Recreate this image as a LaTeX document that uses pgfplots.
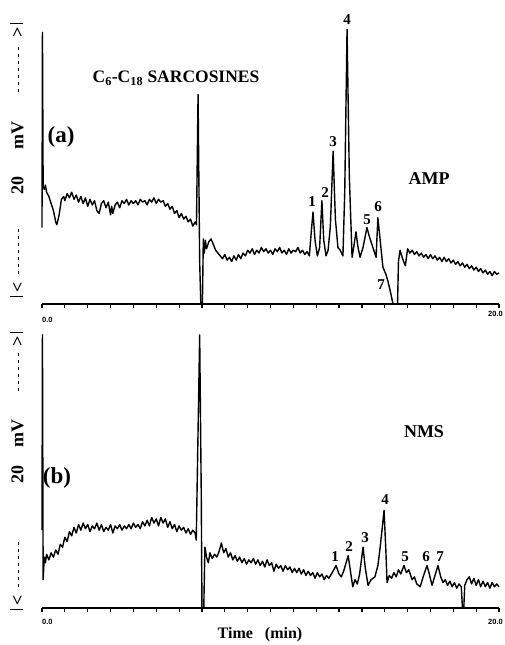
\documentclass[border=0pt]{standalone}
\usepackage{pgfplots}
\pgfplotsset{compat=1.18}
\usepackage{pgfplotstable}
\usepackage{fontspec}
\setmainfont{Liberation Serif}
\newfontfamily\tickfont{Liberation Sans}

% chromatogram (a), AMP: time in min, signal in mV
\pgfplotstableread{
t mV
0.00 5.4
0.02 19.2
0.05 8.3
0.10 8.1
0.15 8.4
0.20 7.9
0.30 7.6
0.40 7.1
0.50 6.6
0.60 5.8
0.65 5.6
0.75 6.3
0.85 7.4
0.95 7.6
1.00 7.3
1.10 7.8
1.20 7.5
1.30 7.9
1.40 7.4
1.50 7.7
1.60 7.2
1.70 7.6
1.80 7.1
1.90 7.5
2.00 6.9
2.10 7.4
2.20 7.0
2.30 7.3
2.40 6.6
2.50 6.4
2.60 7.1
2.70 7.3
2.80 6.8
2.90 7.2
3.00 6.3
3.05 6.9
3.10 6.4
3.20 7.0
3.30 7.2
3.40 6.8
3.50 7.3
3.60 7.1
3.70 7.4
3.80 7.0
3.90 7.3
4.00 7.1
4.10 7.3
4.20 7.0
4.30 7.4
4.40 7.2
4.50 7.3
4.60 7.0
4.70 7.4
4.80 7.2
4.90 7.5
5.00 7.1
5.10 7.4
5.20 7.2
5.30 7.3
5.40 6.9
5.50 7.1
5.60 6.7
5.70 6.9
5.80 6.4
5.90 6.6
6.00 6.1
6.10 6.4
6.20 6.0
6.30 6.2
6.40 5.8
6.50 6.0
6.60 5.5
6.70 5.8
6.76 5.6
6.83 14.8
6.90 3.0
6.95 0
7.02 0
7.06 4.6
7.10 3.6
7.15 4.5
7.20 3.9
7.30 4.4
7.40 4.6
7.50 4.2
7.60 3.8
7.70 3.6
7.80 3.4
7.90 3.2
8.00 3.5
8.10 3.1
8.20 3.3
8.30 3.0
8.40 3.4
8.50 3.1
8.60 3.5
8.70 3.2
8.80 3.6
8.90 3.4
9.00 3.8
9.10 3.6
9.20 3.9
9.30 3.5
9.40 3.8
9.50 3.6
9.60 4.0
9.70 3.7
9.80 3.9
9.90 3.6
10.00 3.8
10.10 3.5
10.20 3.9
10.30 3.7
10.40 4.0
10.50 3.6
10.60 3.8
10.70 3.5
10.80 3.9
10.90 3.6
11.00 3.8
11.10 3.7
11.20 4.0
11.30 3.6
11.40 3.8
11.50 3.5
11.60 3.7
11.70 3.4
11.78 5.0
11.86 6.5
11.95 4.5
12.05 3.4
12.15 4.0
12.25 7.3
12.33 4.5
12.43 3.4
12.52 3.8
12.62 5.5
12.74 10.8
12.84 6.0
12.95 4.0
13.05 3.8
13.17 3.4
13.25 8.0
13.35 19.4
13.45 9.0
13.57 3.3
13.66 4.2
13.74 5.1
13.83 4.0
13.92 3.3
14.05 4.0
14.22 5.4
14.32 4.8
14.40 4.4
14.52 3.8
14.62 3.3
14.70 6.1
14.80 4.5
14.92 2.6
15.05 2.1
15.14 1.6
15.27 0.7
15.36 0
15.56 0
15.60 3.0
15.67 3.8
15.78 3.2
15.90 2.7
16.00 3.9
16.10 3.6
16.20 3.8
16.30 3.5
16.40 3.7
16.50 3.4
16.60 3.6
16.70 3.3
16.80 3.5
16.90 3.2
17.00 3.5
17.10 3.2
17.20 3.4
17.30 3.1
17.40 3.3
17.50 3.0
17.60 3.3
17.70 3.0
17.80 3.2
17.90 2.9
18.00 3.1
18.10 2.8
18.20 3.0
18.30 2.7
18.40 2.9
18.50 2.6
18.60 2.8
18.70 2.5
18.80 2.7
18.90 2.4
19.00 2.6
19.10 2.3
19.20 2.5
19.30 2.2
19.40 2.4
19.50 2.1
19.60 2.3
19.70 2.0
19.80 2.3
19.90 2.1
20.00 2.2
}\traceamp

% chromatogram (b), NMS
\pgfplotstableread{
t mV
0.00 5.5
0.02 19.3
0.05 2.0
0.10 3.6
0.15 3.2
0.20 3.8
0.30 3.4
0.40 3.9
0.50 3.6
0.60 4.1
0.70 3.8
0.80 4.5
0.90 4.3
1.00 5.0
1.10 4.7
1.20 5.4
1.30 5.1
1.40 5.7
1.50 5.3
1.60 5.9
1.70 5.5
1.80 6.0
1.90 5.6
2.00 5.9
2.10 5.4
2.20 5.8
2.30 5.6
2.40 6.0
2.50 5.5
2.60 5.9
2.70 5.4
2.80 5.7
2.90 5.5
3.00 5.9
3.10 5.3
3.20 5.8
3.30 5.6
3.40 5.9
3.50 5.5
3.60 5.8
3.70 5.6
3.80 5.9
3.90 5.6
4.00 6.0
4.10 5.7
4.20 5.9
4.30 5.6
4.40 6.1
4.50 5.8
4.60 6.2
4.70 5.8
4.80 6.4
4.90 6.0
5.00 6.3
5.10 5.8
5.20 6.4
5.30 6.0
5.40 6.3
5.50 5.7
5.60 6.1
5.70 5.6
5.80 5.9
5.90 5.4
6.00 5.8
6.10 5.5
6.20 5.7
6.30 5.3
6.40 5.6
6.50 5.2
6.60 5.5
6.70 5.3
6.75 4.8
6.90 19.3
6.97 8.0
7.00 0
7.08 0
7.13 4.3
7.20 3.6
7.28 3.2
7.35 3.9
7.45 3.5
7.55 3.8
7.65 3.6
7.75 4.0
7.85 4.6
7.95 3.9
8.05 4.2
8.15 3.6
8.25 3.9
8.35 3.4
8.45 3.7
8.55 3.3
8.65 3.6
8.75 3.2
8.85 3.5
8.95 3.1
9.05 3.4
9.15 3.2
9.25 3.5
9.35 3.1
9.45 3.4
9.55 3.0
9.65 3.3
9.75 2.9
9.85 3.4
9.95 3.0
10.05 3.2
10.15 2.6
10.25 3.1
10.35 2.8
10.45 3.0
10.55 2.6
10.65 3.0
10.75 2.7
10.85 2.9
10.95 2.5
11.05 2.8
11.15 2.5
11.25 2.8
11.35 2.4
11.45 2.7
11.55 2.3
11.65 2.6
11.75 2.3
11.85 2.5
11.95 2.1
12.05 2.5
12.15 2.2
12.25 2.4
12.35 2.0
12.45 2.3
12.55 2.1
12.70 2.5
12.87 3.0
13.00 2.4
13.10 2.2
13.20 2.6
13.40 3.7
13.50 2.6
13.60 1.5
13.70 2.0
13.80 1.7
13.90 2.4
14.05 4.3
14.15 2.8
14.27 1.6
14.40 2.0
14.57 2.2
14.70 3.0
14.80 4.3
14.97 6.9
15.05 4.0
15.10 1.8
15.20 2.3
15.30 2.1
15.40 2.5
15.50 2.2
15.60 2.7
15.70 2.4
15.84 3.0
15.95 2.5
16.05 2.7
16.20 2.0
16.30 2.2
16.40 1.7
16.55 1.5
16.70 2.3
16.85 3.0
16.95 2.4
17.07 1.6
17.20 2.3
17.33 3.0
17.45 2.2
17.55 1.8
17.65 2.0
17.75 1.6
17.85 1.9
17.95 1.5
18.05 1.8
18.15 1.4
18.25 1.7
18.35 1.5
18.40 0
18.46 0
18.50 1.6
18.60 2.0
18.70 2.2
18.80 1.7
18.90 2.1
19.00 1.6
19.10 2.0
19.20 1.5
19.30 1.9
19.40 1.5
19.50 1.8
19.60 1.4
19.70 1.8
19.80 1.5
19.90 1.7
20.00 1.5
}\tracenms

\pgfplotsset{chrom/.style={
    scale only axis,
    width=457pt, height=283pt,
    xmin=0, xmax=20, ymin=0, ymax=20,
    axis y line=none, ytick=\empty,
    axis x line=bottom,
    x axis line style={-, line width=1.3pt},
    xtick={0,...,20}, xticklabels={},
    tick align=outside, major tick length=4pt,
    xtick style={line width=1.2pt, black},
    clip=false,
    anchor=south west,
}}

% dashed part of the "|<--- 20 mV --->|" label
\newcommand\dashes[1]{\leaders\hbox to 7pt{\hss\vrule width 3.5pt height 5.8pt depth -4.2pt\hss}\hskip #1\relax}
\newcommand\ybar{\vrule width 1.3pt height 13pt depth 0pt}

\begin{document}
\begin{tikzpicture}
\useasboundingbox (0pt,0pt) rectangle (505pt,645pt);

\begin{axis}[chrom, at={(42pt,341pt)}]
\addplot[black, line width=1.4pt, line join=round] table[x=t, y=mV]{\traceamp};
\end{axis}

\begin{axis}[chrom, at={(42pt,37pt)}]
\addplot[black, line width=1.4pt, line join=round] table[x=t, y=mV]{\tracenms};
\end{axis}

\begin{scope}[x=1pt, y=1pt]
% tick labels
\begin{scope}[font=\tickfont\bfseries\fontsize{7.5}{8}\selectfont, inner sep=0]
\node[anchor=west] at (42,325) {0.0};
\node[anchor=east] at (503,331) {20.0};
\node[anchor=west] at (42,23) {0.0};
\node[anchor=east] at (503,23) {20.0};
\end{scope}

% y labels
\begin{scope}[font=\bfseries\fontsize{18}{20}\selectfont, inner sep=0]
\node[rotate=90] at (17,485) {\hbox to 274pt{\ybar\kern3pt<\kern2pt\dashes{60pt}\hfil 20\hskip 28pt mV\hfil\dashes{56pt}\kern2pt>\kern3pt\ybar}};
\node[rotate=90] at (17,174) {\hbox to 278pt{\ybar\kern3pt<\kern2pt\dashes{58pt}\hskip 52pt 20\hskip 18pt mV\hfil\dashes{50pt}\kern2pt>\kern3pt\ybar}};
\end{scope}

% panel texts
\begin{scope}[font=\bfseries, inner sep=0]
\node[font=\bfseries\fontsize{23}{25}\selectfont] at (61,508) {(a)};
\node[font=\bfseries\fontsize{23}{25}\selectfont] at (57,167) {(b)};
\node[font=\bfseries\fontsize{17.5}{19}\selectfont] at (176,567) {C\textsubscript{6}-C\textsubscript{18} SARCOSINES};
\node[font=\bfseries\fontsize{18}{20}\selectfont] at (429,466) {AMP};
\node[font=\bfseries\fontsize{18}{20}\selectfont] at (424,213) {NMS};
\node[font=\bfseries\fontsize{16}{18}\selectfont] at (260,10) {Time\hskip 12pt(min)};
\end{scope}

% peak numbers
\begin{scope}[font=\bfseries\fontsize{15}{17}\selectfont, inner sep=0]
\node at (312,443) {1};
\node at (325,452) {2};
\node at (333,503) {3};
\node at (347,625) {4};
\node at (367,425) {5};
\node at (378,438) {6};
\node at (381,360) {7};
\node at (335,88) {1};
\node at (349,98) {2};
\node at (365,107) {3};
\node at (385,145) {4};
\node at (405,88) {5};
\node at (426,88) {6};
\node at (440,88) {7};
\end{scope}
\end{scope}
\end{tikzpicture}
\end{document}
